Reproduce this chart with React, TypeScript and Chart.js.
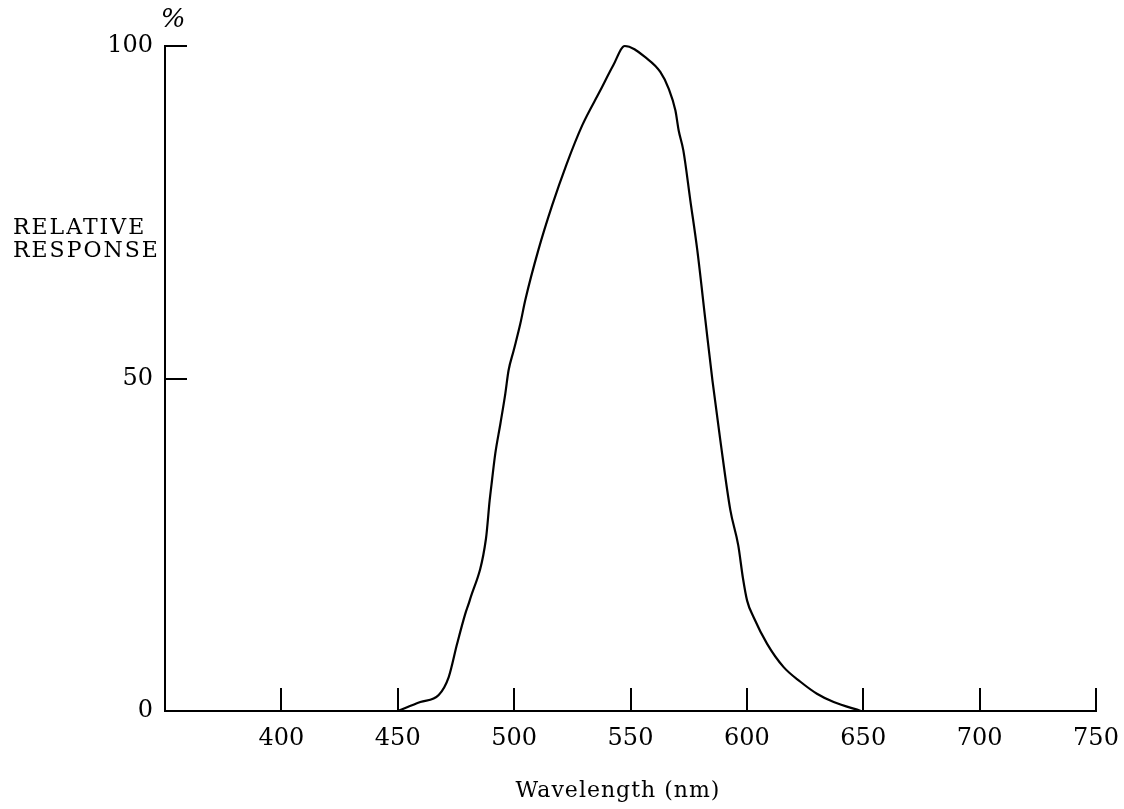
import React, { useEffect, useRef } from "react";
import { Chart, registerables } from "chart.js";

Chart.register(...registerables);

// Wavelength (nm) and relative response (%)
const wavelengths = [
  450, 459.7, 467.6, 471.9, 475.5, 479.0, 480.9,
  487.9, 489.5, 490.5, 491.9, 494.1, 496.2, 497.6, 499.8, 502.7, 504.8,
  510.4, 516.4, 522.4, 529.3, 537.0, 542.6, 547.5,
  557.1, 562.8, 566.4, 569.3, 570.7, 572.7, 575.7, 578.7, 582.2, 585.2, 588.6, 592.9, 596.3, 598.3,
  600.1, 602.9, 608.7, 615.8, 623.0, 630.1, 637.3, 649,
];
const response = [
  0, 1.35, 2.4, 5.1, 10.1, 14.6, 16.6,
  25.9, 31.7, 34.7, 38.7, 43.2, 47.7, 51.2, 54.2, 58.3, 61.8,
  69.3, 76.1, 82.1, 88.1, 93.3, 97.1, 100,
  98.1, 96.1, 93.6, 90.3, 87.3, 84.3, 76.8, 69.3, 58.7, 49.7, 40.7, 30.2, 24.9, 20,
  16.6, 14.1, 10.1, 6.6, 4.4, 2.6, 1.35, 0,
];

const xTickMarks = [400, 450, 500, 550, 600, 650, 700, 750];
const yTickMarks = [50, 100];
const xTitle = "Wavelength (nm)";
const yTitleLines = ["RELATIVE", "RESPONSE"];
const unitLabel = "%";

const FONT = "'DejaVu Serif', serif";

const decorations = {
  id: "decorations",
  afterDraw(chart: any) {
    const { ctx, scales } = chart;
    const x = scales.x;
    const y = scales.y;
    ctx.save();
    ctx.strokeStyle = "#000";
    ctx.lineWidth = 2;
    const yb = y.getPixelForValue(0);
    const x0 = x.getPixelForValue(350);
    ctx.beginPath();
    xTickMarks.forEach((v) => {
      const px = Math.round(x.getPixelForValue(v));
      ctx.moveTo(px, yb);
      ctx.lineTo(px, yb - 23);
    });
    yTickMarks.forEach((v) => {
      const py = Math.round(y.getPixelForValue(v));
      ctx.moveTo(x0, py);
      ctx.lineTo(x0 + 22, py);
    });
    ctx.stroke();

    ctx.fillStyle = "#000";
    ctx.textBaseline = "alphabetic";
    ctx.font = `22px ${FONT}`;
    try { (ctx as any).letterSpacing = "2px"; } catch (e) {}
    ctx.textAlign = "left";
    ctx.fillText(yTitleLines[0], 13, 234);
    ctx.fillText(yTitleLines[1], 13, 257);
    try { (ctx as any).letterSpacing = "1px"; } catch (e) {}
    ctx.textAlign = "center";
    ctx.font = `22px ${FONT}`;
    ctx.fillText(xTitle, 618, 797);
    try { (ctx as any).letterSpacing = "0px"; } catch (e) {}
    ctx.font = `italic 26px ${FONT}`;
    ctx.fillText(unitLabel, 173, 27);
    ctx.restore();
  },
};

export default function App() {
  const ref = useRef<HTMLCanvasElement | null>(null);
  useEffect(() => {
    if (!ref.current) return;
    const data = wavelengths.map((w, i) => ({ x: w, y: response[i] }));
    const chart = new Chart(ref.current, {
      type: "line",
      data: {
        datasets: [
          {
            data,
            borderColor: "#000",
            borderWidth: 2.2,
            pointRadius: 0,
            fill: false,
            cubicInterpolationMode: "monotone",
            clip: false as any,
          },
        ],
      },
      options: {
        animation: false,
        responsive: false,
        maintainAspectRatio: false,
        layout: { padding: { top: 46, right: 28, left: 0, bottom: 0 } },
        plugins: {
          legend: { display: false },
          tooltip: { enabled: false },
        },
        scales: {
          x: {
            type: "linear",
            min: 350,
            max: 750,
            afterFit: (s: any) => {
              s.height = 98;
              s.paddingLeft = 0;
              s.paddingRight = 0;
            },
            grid: { display: false, drawTicks: false },
            border: { display: true, color: "#000", width: 2 },
            ticks: {
              stepSize: 50,
              padding: 13,
              color: "#000",
              font: { family: FONT, size: 24 },
              callback: (v: any) => (Number(v) === 350 ? "" : String(v)),
            },
          },
          y: {
            type: "linear",
            min: 0,
            max: 100,
            afterFit: (s: any) => {
              s.width = 165;
              s.paddingTop = 0;
              s.paddingBottom = 0;
            },
            grid: { display: false, drawTicks: false },
            border: { display: true, color: "#000", width: 2 },
            ticks: {
              stepSize: 50,
              padding: 12,
              color: "#000",
              font: { family: FONT, size: 24 },
            },
          },
        },
      },
      plugins: [decorations],
    });
    return () => chart.destroy();
  }, []);
  return (
    <div style={{ position: "absolute", left: 0, top: 0, width: 1124, height: 809, background: "#fff" }}>
      <canvas ref={ref} width={1124} height={809} style={{ width: 1124, height: 809 }} />
    </div>
  );
}
